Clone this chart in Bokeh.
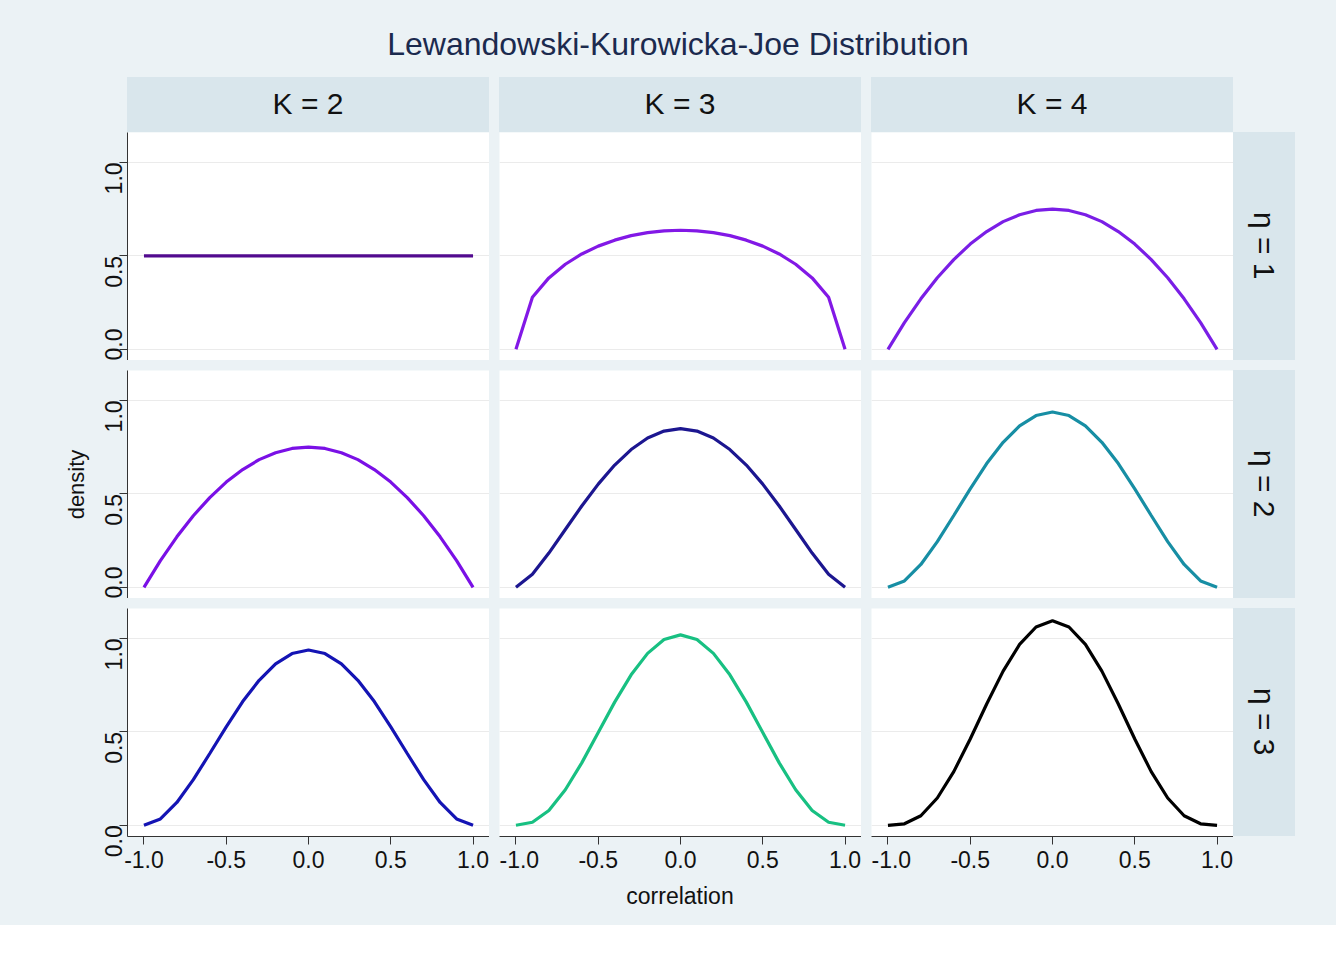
from bokeh.plotting import figure
from bokeh.models import Div, FixedTicker, Spacer, CustomJSTickFormatter
from bokeh.layouts import row, column
from bokeh.embed import file_html
from bokeh.resources import INLINE
from math import pi

# data: marginal density of a correlation
x = [-1.0, -0.9, -0.8, -0.7, -0.6, -0.5, -0.4, -0.3, -0.2, -0.1, 0.0,
     0.1, 0.2, 0.3, 0.4, 0.5, 0.6, 0.7, 0.8, 0.9, 1.0]

def sym(half):
    # half runs from r=0 to r=1
    return half[::-1] + half[1:]

dens_k2_e1 = sym([0.5] * 11)
dens_k3_e1 = sym([.637, .634, .624, .608, .584, .552, .510, .455, .382, .278, 0.0])
dens_k4_e1 = sym([.75, .743, .72, .683, .63, .563, .48, .383, .27, .143, 0.0])
dens_k2_e2 = sym([.75, .743, .72, .683, .63, .563, .48, .383, .27, .143, 0.0])
dens_k3_e2 = sym([.849, .836, .799, .737, .654, .552, .435, .309, .183, .070, 0.0])
dens_k4_e2 = sym([.938, .919, .864, .776, .662, .527, .384, .244, .122, .034, 0.0])
dens_k2_e3 = sym([.938, .919, .864, .776, .662, .527, .384, .244, .122, .034, 0.0])
dens_k3_e3 = sym([1.019, .994, .920, .805, .659, .496, .334, .190, .079, .016, 0.0])
dens_k4_e3 = sym([1.094, 1.061, .968, .825, .649, .462, .287, .146, .051, .008, 0.0])

k_labels = ["K = 2", "K = 3", "K = 4"]
eta_labels = ["η = 1", "η = 2", "η = 3"]
panels = [
    [(dens_k2_e1, "#520a8f"), (dens_k3_e1, "#8218e6"), (dens_k4_e1, "#7a1ee6")],
    [(dens_k2_e2, "#7a10e6"), (dens_k3_e2, "#1c1690"), (dens_k4_e2, "#178ea4")],
    [(dens_k2_e3, "#1414b4"), (dens_k3_e3, "#18c082"), (dens_k4_e3, "#000000")],
]

BG = "#ebf2f5"
STRIP = "#d9e6ec"
FONT = "Liberation Sans"
FW, FH, LEFT, GAP = 362, 228, 127, 10

def panel(i, j, ys, color):
    bottom = i == 2
    p = figure(frame_width=FW, frame_height=FH, x_range=(-1.1, 1.1), y_range=(-0.06, 1.16),
               output_backend="svg", toolbar_location=None,
               min_border_left=LEFT if j == 0 else 0, min_border_right=0,
               min_border_top=0, min_border_bottom=50 if bottom else 0)
    p.line(x, ys, line_color=color, line_width=3.2)
    p.background_fill_color = "white"
    p.border_fill_color = BG
    p.outline_line_color = None
    p.xgrid.visible = False
    p.ygrid.ticker = FixedTicker(ticks=[0, 0.5, 1.0])
    p.ygrid.grid_line_color = "#ebebeb"
    p.yaxis.ticker = FixedTicker(ticks=[0, 0.5, 1.0])
    p.xaxis.ticker = FixedTicker(ticks=[-1, -0.5, 0, 0.5, 1])
    for ax in (p.xaxis, p.yaxis):
        ax.axis_line_color = "#333333"
        ax.major_tick_line_color = "#333333"
        ax.minor_tick_line_color = None
        ax.major_tick_out = 8
        ax.major_tick_in = 0
        ax.major_label_standoff = 6
        ax.major_label_text_font = FONT
        ax.major_label_text_font_size = "23px"
        ax.major_label_text_color = "#111111"
        ax.axis_label_text_font = FONT
        ax.axis_label_text_font_size = "22px"
        ax.axis_label_text_font_style = "normal"
        ax.axis_label_text_color = "#111111"
        ax.formatter = CustomJSTickFormatter(code="return tick.toFixed(1);")
    p.xaxis.visible = bottom
    p.yaxis.visible = j == 0
    p.yaxis.major_label_orientation = pi / 2
    if j == 0 and i == 1:
        p.yaxis.axis_label = "density"
    return p

title = Div(text="Lewandowski-Kurowicka-Joe Distribution", width=1296, height=77, margin=0,
            styles={"font-family": FONT, "font-size": "32px", "color": "#1b2a4e",
                    "text-align": "center", "width": "1296px", "padding-top": "22px",
                    "padding-left": "60px"})

strip_style = {"background-color": STRIP, "font-family": FONT, "font-size": "30px",
               "color": "#111111", "display": "flex", "align-items": "center",
               "justify-content": "center"}
top_strips = row([Spacer(width=LEFT - GAP, height=55, margin=0)] +
                 [Div(text=k, width=FW, height=55, margin=0, styles=dict(strip_style))
                  for k in k_labels],
                 spacing=GAP)

rows = []
for i in range(3):
    figs = [panel(i, j, ys, c) for j, (ys, c) in enumerate(panels[i])]
    side_style = dict(strip_style)
    side_style["writing-mode"] = "vertical-rl"
    side = Div(text=eta_labels[i], width=62, height=FH, margin=0, styles=side_style)
    rows.append(row([figs[0], figs[1], row([figs[2], side], spacing=0)], spacing=GAP))

rows_box = column(rows, spacing=GAP)

xlabel = Div(text="correlation", width=1296, height=45, margin=0,
             styles={"font-family": FONT, "font-size": "23px", "color": "#111111",
                     "text-align": "center", "width": "1296px", "padding-left": "64px",
                     "margin-top": "-6px"})

p = column([title, top_strips, rows_box, xlabel], spacing=0,
           styles={"background-color": BG, "padding-right": "40px"})

open("out.html", "w").write(file_html(p, INLINE))
